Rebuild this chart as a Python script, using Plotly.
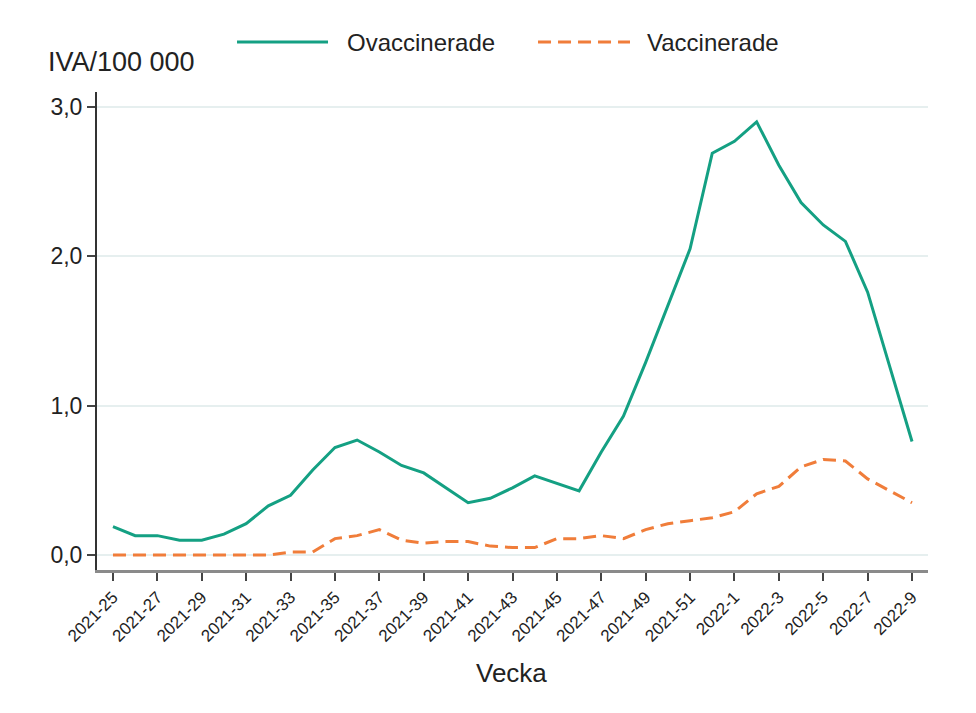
import plotly.graph_objects as go

weeks = [f"2021-{w}" for w in range(25, 53)] + [f"2022-{w}" for w in range(1, 10)]

ovaccinerade = [0.19, 0.13, 0.13, 0.10, 0.10, 0.14, 0.21, 0.33, 0.40, 0.57, 0.72, 0.77,
                0.69, 0.60, 0.55, 0.45, 0.35, 0.38, 0.45, 0.53, 0.48, 0.43, 0.69, 0.93,
                1.29, 1.67, 2.05, 2.69, 2.77, 2.90, 2.61, 2.36, 2.21, 2.10, 1.76, 1.26, 0.76]

vaccinerade = [0.0, 0.0, 0.0, 0.0, 0.0, 0.0, 0.0, 0.0, 0.02, 0.02, 0.11, 0.13,
               0.17, 0.10, 0.08, 0.09, 0.09, 0.06, 0.05, 0.05, 0.11, 0.11, 0.13, 0.11,
               0.17, 0.21, 0.23, 0.25, 0.29, 0.41, 0.46, 0.59, 0.64, 0.63, 0.51, 0.43, 0.35]

series_names = ["Ovaccinerade", "Vaccinerade"]
tick_labels = weeks[::2]

GREEN = "#14a083"
ORANGE = "#f07d3a"
DASH = "13px,7px"
TXT = "#222222"

x_idx = list(range(len(weeks)))

fig = go.Figure()
fig.add_trace(go.Scatter(x=x_idx, y=ovaccinerade, mode="lines", name=series_names[0],
                         line=dict(color=GREEN, width=3), showlegend=False))
fig.add_trace(go.Scatter(x=x_idx, y=vaccinerade, mode="lines", name=series_names[1],
                         line=dict(color=ORANGE, width=3, dash=DASH), showlegend=False))

font_family = "Liberation Sans, Arial, sans-serif"

# custom legend (long line samples like the reference)
leg_y = 1.1046
shapes = [
    dict(type="line", xref="paper", yref="paper", x0=0.1685, x1=0.2780, y0=leg_y, y1=leg_y,
         line=dict(color=GREEN, width=3)),
    dict(type="line", xref="paper", yref="paper", x0=0.5307, x1=0.6414, y0=leg_y, y1=leg_y,
         line=dict(color=ORANGE, width=3, dash=DASH)),
]
annotations = [
    dict(text=series_names[0], xref="paper", yref="paper", x=0.2990, y=leg_y,
         xanchor="left", yanchor="middle", showarrow=False, font=dict(size=24, color=TXT)),
    dict(text=series_names[1], xref="paper", yref="paper", x=0.6590, y=leg_y,
         xanchor="left", yanchor="middle", showarrow=False, font=dict(size=24, color=TXT)),
    dict(text="IVA/100 000", xref="paper", yref="paper", x=-0.0614, y=1.0628,
         xanchor="left", yanchor="middle", showarrow=False, font=dict(size=27, color=TXT)),
    dict(text="Vecka", xref="paper", yref="paper", x=0.4982, y=-0.2155,
         xanchor="center", yanchor="middle", showarrow=False, font=dict(size=26, color=TXT)),
]

fig.update_layout(
    width=976, height=713,
    paper_bgcolor="white", plot_bgcolor="white",
    margin=dict(l=89, r=56, t=84, b=151),
    separators=", ",
    font=dict(family=font_family, color=TXT),
    showlegend=False,
    xaxis=dict(
        range=[-0.72, 36.72],
        tickmode="array", tickvals=x_idx[::2], ticktext=tick_labels,
        tickangle=-45, tickfont=dict(size=17, color=TXT),
        ticks="outside", ticklen=8, tickcolor="#444", tickwidth=1.5,
        showline=True, linecolor="#8a8a8a", linewidth=2.5,
        showgrid=False, zeroline=False,
    ),
    yaxis=dict(
        range=[-0.1, 3.1],
        tickvals=[0, 1, 2, 3], tickformat=".1f",
        tickfont=dict(size=23, color=TXT),
        ticks="outside", ticklen=8, tickcolor="#444", tickwidth=1.5,
        showline=True, linecolor="#333", linewidth=2,
        showgrid=True, gridcolor="#e6efef", gridwidth=1.5,
        zeroline=False,
    ),
    shapes=shapes,
    annotations=annotations,
)

fig.write_html("out.html")
